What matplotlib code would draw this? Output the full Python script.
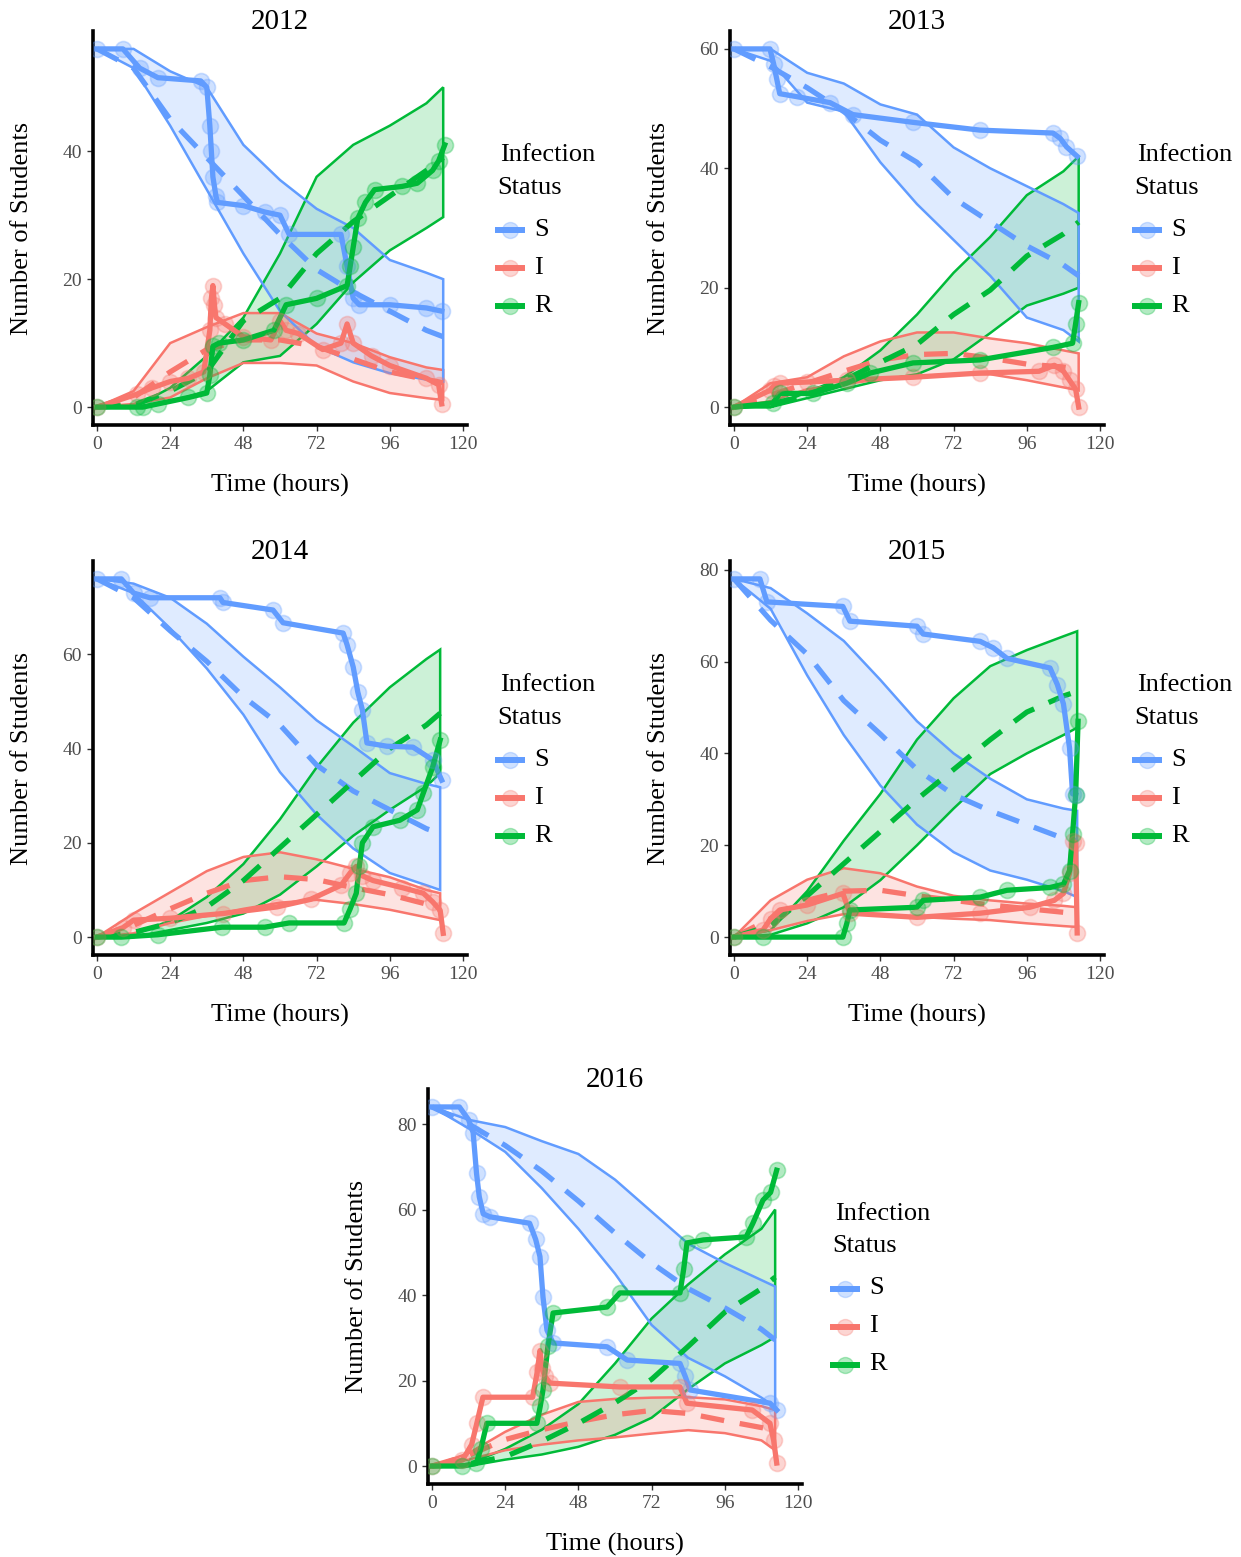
import numpy as np
import matplotlib
matplotlib.use("Agg")
import matplotlib.pyplot as plt
from matplotlib.lines import Line2D

plt.rcParams['font.family'] = ['Liberation Serif', 'DejaVu Serif']

# ---------------- data ----------------
STATES = ["S", "I", "R"]
COLORS = {"S": "#619CFF", "I": "#F8766D", "R": "#00BA38"}
X_TICKS = [0, 24, 48, 72, 96, 120]

# ---- 2012 ----
BAND_T_2012 = [0, 12, 24, 36, 48, 60, 72, 84, 96, 108, 113.5]
S_LO_2012 = [56, 53, 44, 34, 24, 15, 9.5, 7, 5.3, 4.3, 4]
S_HI_2012 = [56, 56, 52.5, 50, 41, 35.5, 31, 28, 23, 21, 20]
S_MEAN_2012 = [56, 53, 45, 39, 33, 27, 21.5, 18, 15, 12, 11]
I_LO_2012 = [0, 0.5, 1.5, 4.5, 6.9, 6.9, 6.5, 4, 2.2, 1.4, 1.1]
I_HI_2012 = [0, 2.5, 10, 12.5, 14.7, 14.7, 11.5, 10, 7.8, 6.2, 5.8]
I_MEAN_2012 = [0, 1.5, 5.5, 9, 10.5, 10.5, 9.5, 7.5, 5.5, 4.3, 3.8]
R_LO_2012 = [0, 0, 0.8, 2.5, 7, 8, 13, 19.5, 24.5, 28, 29.7]
R_HI_2012 = [0, 0, 3, 8, 14, 24, 36, 41, 44, 47.5, 50]
R_MEAN_2012 = [0, 0.3, 2.5, 5.5, 13.5, 17, 24, 29, 33, 37, 39]
S_OBS_T_2012 = [0, 8.5, 14, 20, 34, 36, 37, 37.5, 38, 39, 39.5, 48, 55, 60, 63, 80, 82, 84, 86, 96, 108, 113]
S_OBS_V_2012 = [56, 56, 53, 51.5, 51, 50, 44, 40, 36, 33, 32, 31.5, 30.5, 30, 27, 27, 22, 17, 16, 16, 15.5, 15]
I_OBS_T_2012 = [0, 13, 18, 24, 30, 35, 37, 37.5, 38, 38.5, 39, 42, 48, 57, 60, 62, 66, 74, 80, 82, 84, 90, 96, 108, 112, 113]
I_OBS_V_2012 = [0, 2, 3, 4, 4.5, 5.5, 12, 17, 19, 16, 14, 13, 11, 10.5, 13.5, 12, 11.5, 9, 10, 13, 10, 8, 6.5, 4.5, 3.5, 0.5]
R_OBS_T_2012 = [0, 13, 15, 20, 30, 36, 37, 38, 40, 48, 58, 62, 72, 82, 83, 84, 85.5, 88, 91, 100, 105, 110, 112, 114]
R_OBS_V_2012 = [0, 0, 0, 0.5, 1.5, 2.2, 5, 9.5, 10, 10.5, 12, 16, 17, 19, 22, 25, 29.5, 32, 34, 34.5, 35, 37, 38.5, 41]

# ---- 2013 ----
BAND_T_2013 = [0, 12, 24, 36, 48, 60, 72, 84, 96, 108, 113]
S_LO_2013 = [60, 58, 51, 49.5, 41, 34, 28, 22, 15, 12.9, 11]
S_HI_2013 = [60, 60, 56, 54.2, 50.7, 49, 43.5, 40, 37, 34, 32.5]
S_MEAN_2013 = [60, 57, 53.5, 49.5, 44.7, 41, 35, 31, 27, 23.8, 22]
I_LO_2013 = [0, 1, 3, 3.8, 4.7, 5.2, 5.5, 5.5, 4.5, 3.3, 2.8]
I_HI_2013 = [0, 4, 5, 8.5, 11, 12.5, 12.5, 11.5, 10.7, 9.5, 9]
I_MEAN_2013 = [0, 2, 4, 6, 7.9, 8.8, 9, 8.2, 7.2, 6.7, 6.3]
R_LO_2013 = [0, 0, 1.5, 3, 4.5, 5.5, 8, 12.4, 17, 19, 20]
R_HI_2013 = [0, 0, 2.5, 5, 9.5, 15.5, 22.5, 28.5, 35.5, 39.5, 42]
R_MEAN_2013 = [0, 0.5, 2, 4.5, 7.5, 10.5, 15.5, 19.6, 25.3, 29, 31]
S_OBS_T_2013 = [0, 11.8, 13, 14, 15, 20.6, 31.5, 39, 58.7, 80.6, 104.6, 107, 109, 112.5]
S_OBS_V_2013 = [60, 60, 57.5, 55, 52.5, 52, 51, 49, 47.7, 46.4, 45.9, 45, 43.6, 42]
I_OBS_T_2013 = [0, 11.8, 13, 15, 24, 37, 58.7, 80.6, 100, 105, 108, 110, 112, 113]
I_OBS_V_2013 = [0, 2.8, 3.5, 4, 4.2, 4.5, 5, 5.7, 6, 7, 6, 4.5, 3, 0]
R_OBS_T_2013 = [0, 12.8, 15, 26, 37, 44.6, 58.7, 80.6, 104.6, 111, 112, 113]
R_OBS_V_2013 = [0, 0.7, 2.3, 2.3, 4, 5.7, 7.4, 7.9, 10, 10.7, 14, 17.5]

# ---- 2014 ----
BAND_T_2014 = [0, 12, 24, 36, 48, 60, 72, 84, 96, 108, 112.5]
S_LO_2014 = [76, 73, 65.5, 57, 47.2, 35, 26, 18.8, 13.6, 11, 10]
S_HI_2014 = [76, 75, 72, 66.5, 59.5, 53, 46, 40.5, 34.8, 32.5, 31.8]
S_MEAN_2014 = [76, 72, 65, 58.5, 51, 45, 36.5, 31, 27, 23, 22]
I_LO_2014 = [0, 0.8, 3, 4.5, 6, 7.3, 7.9, 7, 5.8, 4.2, 3.6]
I_HI_2014 = [0, 5, 9.5, 14, 17, 18, 16.5, 14.5, 12.7, 10, 9.3]
I_MEAN_2014 = [0, 2.5, 6, 9.3, 12, 12.8, 12.2, 10.5, 9, 7, 5.7]
R_LO_2014 = [0, 0, 1.5, 3, 5, 9, 15, 21.5, 27, 32, 34.8]
R_HI_2014 = [0, 0.5, 3.5, 8.5, 15.5, 25, 36, 45.5, 53, 59, 61]
R_MEAN_2014 = [0, 1, 3, 6.4, 12, 19, 26, 33, 40, 45, 47.5]
S_OBS_T_2014 = [0, 8, 12, 17.4, 40.3, 41.3, 57.7, 61, 80.7, 82, 84, 85.5, 87, 88.5, 95, 103.6, 110, 113]
S_OBS_V_2014 = [76, 76, 73, 72, 72, 71, 69.4, 66.7, 64.5, 62, 57.3, 52, 48.2, 41.2, 40.5, 40.3, 37.6, 33.3]
I_OBS_T_2014 = [0, 8.5, 12, 24, 41.3, 59, 70, 80, 83, 85, 87, 90.5, 100, 107, 110, 112.5, 113.5]
I_OBS_V_2014 = [0, 2, 3.6, 4, 5, 6.4, 8, 11, 13.6, 15, 13, 12, 10.5, 9.3, 7.5, 5.7, 0.8]
R_OBS_T_2014 = [0, 8, 20, 41, 55, 63, 81, 83, 85, 86, 87, 90.5, 99.3, 105, 107, 110, 112.5]
R_OBS_V_2014 = [0, 0, 0.5, 2.1, 2.1, 3, 3, 6, 9.3, 15, 20, 23.4, 24.8, 27, 30.6, 36, 41.8]

# ---- 2015 ----
BAND_T_2015 = [0, 12, 24, 36, 48, 60, 72, 84, 96, 108, 112.5]
S_LO_2015 = [78, 71.5, 57, 44, 33, 24.5, 18.5, 14.5, 12.5, 10, 8.7]
S_HI_2015 = [78, 76, 70.5, 64.5, 56, 47, 40, 34.5, 30, 28, 27.5]
S_MEAN_2015 = [78, 69, 61.6, 51.5, 44.2, 36.5, 31, 27.5, 24.5, 21.5, 21]
I_LO_2015 = [0, 1.5, 3.5, 5, 5, 4.4, 4, 3.7, 3, 2.4, 2.2]
I_HI_2015 = [0, 8, 12.5, 15, 13.9, 11, 9, 8, 7.3, 6.8, 6.5]
I_MEAN_2015 = [0, 4, 8, 10, 10.2, 9, 8, 7, 6.2, 5.4, 5.2]
R_LO_2015 = [0, 0.5, 3, 6.5, 12.4, 20, 28, 35.5, 40, 44, 45.6]
R_HI_2015 = [0, 1.5, 10, 21, 31.2, 43, 52, 59, 62.5, 65.5, 66.6]
R_MEAN_2015 = [0, 2.5, 9, 16, 23, 30, 36.5, 43, 49, 52.5, 53.5]
S_OBS_T_2015 = [0, 8.5, 10.8, 35.7, 38, 60, 62, 80.7, 85, 89.5, 103.6, 106, 108, 110, 111, 112]
S_OBS_V_2015 = [78, 78, 73, 72, 68.8, 67.7, 66, 64.4, 63, 60.7, 58.6, 55, 50.8, 41.2, 31.2, 31]
I_OBS_T_2015 = [0, 9.5, 12, 15, 24, 35.7, 38, 60, 80.7, 97, 105, 108, 110, 111, 112, 112.5]
I_OBS_V_2015 = [0, 1.5, 4, 5.9, 7, 9.5, 5.2, 4.3, 5.2, 6.5, 8, 9.5, 13.9, 21, 20.5, 0.9]
R_OBS_T_2015 = [0, 9.5, 35.7, 37, 38, 60, 62, 80.7, 89.5, 103.6, 108, 110, 111, 112, 112.8]
R_OBS_V_2015 = [0, 0, 0, 3, 5.9, 6.5, 8, 8.7, 10.2, 10.8, 11.5, 14.5, 22.5, 31, 47]

# ---- 2016 ----
BAND_T_2016 = [0, 12, 24, 36, 48, 60, 72, 84, 96, 108, 112.5]
S_LO_2016 = [84, 79, 73.5, 65, 55.5, 45, 33, 25.3, 21, 16, 13.8]
S_HI_2016 = [84, 81, 79.3, 76, 73, 67, 59.5, 52, 47.5, 43.5, 42]
S_MEAN_2016 = [84, 80, 75, 69, 62, 54.5, 47.5, 41.5, 37, 32, 29.5]
I_LO_2016 = [0, 1.5, 3.7, 5, 6, 6.7, 7.6, 8.4, 7.7, 6, 3.7]
I_HI_2016 = [0, 3, 8, 12, 15, 15.7, 16, 16.1, 15.6, 14, 13.1]
I_MEAN_2016 = [0, 2.5, 6.2, 8.5, 10.4, 12, 13, 12.3, 10.6, 9, 8.4]
R_LO_2016 = [0, 0, 1.5, 2.7, 4.5, 7.3, 11.3, 18, 24, 28.3, 30.2]
R_HI_2016 = [0, 0.5, 4, 8.5, 14.5, 24, 34.5, 42.5, 49.5, 55.5, 60]
R_MEAN_2016 = [0, 0.5, 2.2, 5.8, 10, 14.8, 20.3, 28, 36, 41.5, 44.2]
S_OBS_T_2016 = [0, 9, 12, 13.5, 14.6, 15.5, 16.8, 19, 32, 34, 35.4, 36.4, 37.7, 39.7, 57.4, 64, 81.3, 83, 84.6, 110.8, 113]
S_OBS_V_2016 = [84, 84, 81, 78, 68.5, 63, 59, 58.3, 56.8, 53, 49, 39.5, 31.8, 28.8, 27.9, 24.8, 24, 21, 17.8, 14.7, 13.1]
I_OBS_T_2016 = [0, 10, 13, 14.7, 16.7, 33, 34.5, 35.4, 36, 37, 38.7, 61.6, 81.3, 83.6, 105, 110.8, 112, 113]
I_OBS_V_2016 = [0, 1.4, 5, 10, 16.1, 16.1, 22, 27, 23, 21, 19.4, 18.5, 18.5, 14.7, 13.1, 10, 6, 0.7]
R_OBS_T_2016 = [0, 10, 14.5, 16, 18, 34.4, 35.5, 36.4, 38, 39.7, 57.4, 61.6, 81.3, 82.5, 83.6, 89, 103, 105.2, 108.5, 111, 113]
R_OBS_V_2016 = [0, 0, 0.6, 4, 10, 10, 14, 17.8, 28, 35.8, 37.2, 40.5, 40.5, 46, 52.2, 52.9, 53.6, 56.8, 62.2, 64, 69.2]

Y_TICKS = {2012: [0, 20, 40], 2013: [0, 20, 40, 60], 2014: [0, 20, 40, 60],
           2015: [0, 20, 40, 60, 80], 2016: [0, 20, 40, 60, 80]}
Y_MAX = {2012: 56, 2013: 60, 2014: 76, 2015: 78, 2016: 84}

g = globals()
panels = {}
for yr in [2012, 2013, 2014, 2015, 2016]:
    d = {"band_t": g[f"BAND_T_{yr}"]}
    for s in STATES:
        d[s] = dict(lo=g[f"{s}_LO_{yr}"], hi=g[f"{s}_HI_{yr}"], mean=g[f"{s}_MEAN_{yr}"],
                    ot=g[f"{s}_OBS_T_{yr}"], ov=g[f"{s}_OBS_V_{yr}"])
    panels[yr] = d

# ---------------- layout (pixels) ----------------
W, H = 1241, 1557
BOXES = {2012: (93, 467, 31, 425), 2013: (730, 1104, 31, 425),
         2014: (93, 467, 561, 955), 2015: (730, 1104, 561, 955),
         2016: (428, 802, 1089, 1484)}

fig = plt.figure(figsize=(W / 100, H / 100), dpi=100)
fig.patch.set_facecolor("white")


def fx(x):
    return x / W


def fy(y):
    return 1 - y / H


for yr, (L, R, T, B) in BOXES.items():
    ax = fig.add_axes([fx(L), fy(B), fx(R - L), (B - T) / H])
    d = panels[yr]
    bt = np.array(d["band_t"], dtype=float)
    # ribbons
    for s in ["R", "I", "S"]:
        c = COLORS[s]
        lo = np.array(d[s]["lo"], float)
        hi = np.array(d[s]["hi"], float)
        ax.fill_between(bt, lo, hi, color=c, alpha=0.2, linewidth=0, zorder=1)
    for s in ["R", "I", "S"]:
        c = COLORS[s]
        lo = np.array(d[s]["lo"], float)
        hi = np.array(d[s]["hi"], float)
        px = np.concatenate([bt, bt[::-1]])
        py = np.concatenate([hi, lo[::-1]])
        ax.plot(np.append(px, px[0]), np.append(py, py[0]), color=c, lw=1.8, zorder=2,
                solid_joinstyle="miter")
    # means
    for s in STATES:
        ax.plot(bt, d[s]["mean"], color=COLORS[s], lw=3.8, dashes=(4.5, 3), zorder=3,
                solid_capstyle="butt")
    # observed
    for s in STATES:
        c = COLORS[s]
        ax.plot(d[s]["ot"], d[s]["ov"], color=c, lw=3.8, zorder=4, solid_joinstyle="round")
        ax.plot(d[s]["ot"], d[s]["ov"], linestyle="none", marker="o", ms=11.5,
                mfc=c, mec=c, mew=1.2, alpha=0.3, zorder=5)

    ym = Y_MAX[yr]
    ax.set_xlim(-1.3, 121.3)
    ax.set_ylim(-0.05 * ym, ym * 1.05)
    ax.set_xticks(X_TICKS)
    ax.set_yticks(Y_TICKS[yr])
    for sp in ["top", "right"]:
        ax.spines[sp].set_visible(False)
    for sp in ["left", "bottom"]:
        ax.spines[sp].set_linewidth(2.6)
        ax.spines[sp].set_color("black")
    ax.tick_params(axis="both", length=4, width=1, color="#333333", labelcolor="#4D4D4D",
                   labelsize=14, pad=4)
    ax.set_facecolor("white")

    cx = (L + R) / 2
    cy = (T + B) / 2
    fig.text(fx(cx), fy(T - 9), str(yr), ha="center", va="center", fontsize=21)
    fig.text(fx(cx), fy(B + 60), "Time (hours)", ha="center", va="center", fontsize=19)
    fig.text(fx(L - 71), fy(cy), "Number of Students", ha="center", va="center",
             rotation=90, fontsize=19)
    # legend
    fig.text(fx(R + 33), fy(cy - 73), "Infection", ha="left", va="center", fontsize=19)
    fig.text(fx(R + 30), fy(cy - 40), "Status", ha="left", va="center", fontsize=19)
    for k, s in enumerate(STATES):
        yy = cy + 2 + 38 * k
        c = COLORS[s]
        fig.add_artist(Line2D([fx(R + 28), fx(R + 58)], [fy(yy), fy(yy)], color=c, lw=4.3,
                              solid_capstyle="butt"))
        fig.add_artist(Line2D([fx(R + 43)], [fy(yy)], linestyle="none", marker="o", ms=11.5,
                              mfc=c, mec=c, alpha=0.3))
        fig.text(fx(R + 67), fy(yy), s, ha="left", va="center", fontsize=19)

fig.savefig("out.png", dpi=100, facecolor="white")
